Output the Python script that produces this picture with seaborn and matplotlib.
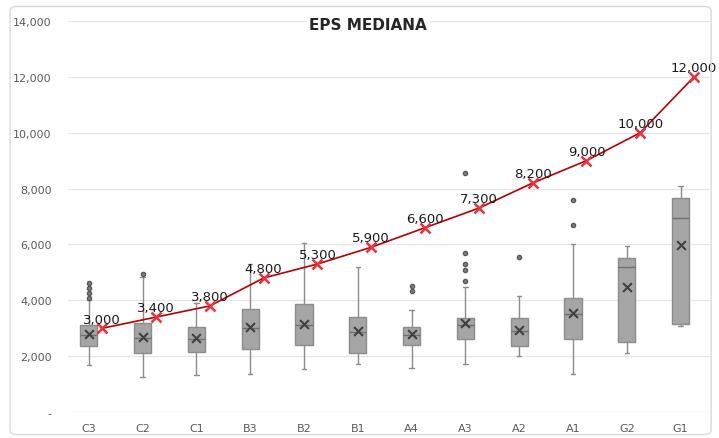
import numpy as np
import pandas as pd
import matplotlib
matplotlib.use("Agg")
import matplotlib.pyplot as plt
import seaborn as sns
from matplotlib.ticker import FuncFormatter
from matplotlib.patches import FancyBboxPatch

# =========================
# DATA
# =========================

categories = ["C3", "C2", "C1", "B3", "B2", "B1", "A4", "A3", "A2", "A1", "G2", "G1"]

eps_mediana = [3000, 3400, 3800, 4800, 5300, 5900, 6600, 7300, 8200, 9000, 10000, 12000]

whisker_low = [1700, 1260, 1330, 1370, 1550, 1730, 1580, 1730, 2000, 1370, 2120, 3080]
q1 = [2370, 2100, 2160, 2270, 2400, 2120, 2400, 2600, 2370, 2620, 2520, 3170]
median = [2750, 2650, 2600, 3000, 3100, 2850, 2750, 3100, 2900, 3500, 5180, 6940]
q3 = [3130, 3200, 3060, 3700, 3880, 3400, 3060, 3380, 3380, 4100, 5500, 7660]
whisker_high = [4000, 4850, 3900, 5300, 6040, 5200, 3670, 4460, 4140, 6000, 5940, 8100]
means = [2800, 2700, 2660, 3060, 3150, 2900, 2800, 3200, 2950, 3560, 4460, 5970]

outliers = {
    "C3": [4100, 4270, 4450, 4620],
    "C2": [4960],
    "A4": [4350, 4500],
    "A3": [4700, 5070, 5300, 5700, 8550],
    "A2": [5550],
    "A1": [6700, 7600],
}

# =========================
# STYLE
# =========================

sns.set_theme(style="white")
plt.rcParams["font.family"] = ["DejaVu Sans"]

fig, ax = plt.subplots(figsize=(7.19, 4.39), dpi=100)
fig.subplots_adjust(left=0.095, right=0.99, bottom=0.059, top=0.95)

# outer chart border
fig.patches.append(FancyBboxPatch((0.014, 0.008), 0.975, 0.975,
                                  boxstyle="round,pad=0,rounding_size=0.01",
                                  transform=fig.transFigure, fill=False,
                                  edgecolor="#d9d9d9", linewidth=1))

# =========================
# BOXES
# =========================

stats = []
for i, cat in enumerate(categories):
    stats.append({
        "label": cat,
        "whislo": whisker_low[i],
        "q1": q1[i],
        "med": median[i],
        "q3": q3[i],
        "whishi": whisker_high[i],
        "fliers": outliers.get(cat, []),
    })

ax.bxp(stats, positions=np.arange(len(categories)), widths=0.32,
       patch_artist=True, showmeans=False,
       boxprops=dict(facecolor="#a5a5a5", edgecolor="#8c8c8c", linewidth=1),
       medianprops=dict(color="#6f6f6f", linewidth=1),
       whiskerprops=dict(color="#8c8c8c", linewidth=1),
       capprops=dict(color="#8c8c8c", linewidth=1),
       capwidths=0.08,
       flierprops=dict(marker="o", markersize=3, markerfacecolor="#7f7f7f",
                       markeredgecolor="#595959"))

mean_df = pd.DataFrame({"x": np.arange(len(categories)), "mean": means})
sns.scatterplot(data=mean_df, x="x", y="mean", marker="x", s=40,
                color="#404040", linewidth=1.5, ax=ax, zorder=4)

# =========================
# MEDIAN LINE
# =========================

line_df = pd.DataFrame({"x": np.arange(len(categories)) + 0.25, "eps": eps_mediana})
sns.lineplot(data=line_df, x="x", y="eps", color="#b80000", linewidth=1.2,
             marker="x", markersize=6.5, markeredgewidth=1.8,
             markeredgecolor="#e8323c", ax=ax, zorder=5)

for x, v in zip(line_df["x"], line_df["eps"]):
    ax.annotate(f"{v:,.0f}", (x, v), xytext=(0, 2), textcoords="offset points",
                ha="center", va="bottom", fontsize=9.5, color="#1a1a1a", zorder=6)

# =========================
# AXES
# =========================

ax.set_xlim(-0.38, 11.58)
ax.set_ylim(0, 14000)
ax.set_yticks(np.arange(0, 14001, 2000))
ax.yaxis.set_major_formatter(FuncFormatter(lambda v, p: "-" if v == 0 else f"{v:,.0f}"))
ax.set_xticks(np.arange(len(categories)))
ax.set_xticklabels(categories)
ax.tick_params(axis="both", labelsize=8, colors="#595959", length=0)
ax.tick_params(axis="x", pad=8)
ax.tick_params(axis="y", pad=12)
ax.yaxis.grid(True, color="#e6e6e6", linewidth=1)
ax.set_axisbelow(True)
ax.set_xlabel("")
ax.set_ylabel("")
for side in ["top", "right", "bottom", "left"]:
    ax.spines[side].set_visible(False)

fig.text(0.512, 1 - 25 / 439, "EPS MEDIANA", ha="center", va="center",
         fontsize=11, fontweight="bold", color="#262626",
         bbox=dict(facecolor="white", edgecolor="none", pad=2), zorder=10)

plt.savefig("out.png", dpi=100)
